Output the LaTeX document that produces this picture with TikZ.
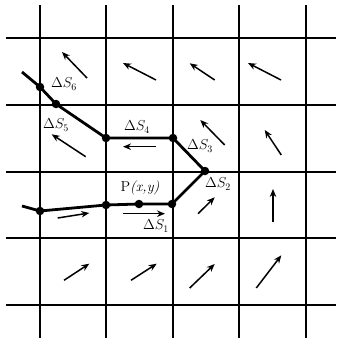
\documentclass[tikz,border=0pt]{standalone}
\usetikzlibrary{arrows.meta}

\begin{document}
\begin{tikzpicture}[
    x=1pt, y=-1pt,
    gridline/.style={line width=1.9pt},
    contour/.style={line width=2.8pt, line join=round},
    dot/.style={circle, fill, inner sep=0pt, minimum size=8.5pt},
    field/.style={-{Stealth[length=8pt, width=6.5pt]}, line width=1.5pt},
    lbl/.style={font=\Large, inner sep=0pt}
]
\useasboundingbox (0,0) rectangle (337,343);
% grid
\foreach \gx in {40,106,173,239,306}
    \draw[gridline] (\gx,5) -- (\gx,338);
\foreach \gy in {38,105,172,238,305}
    \draw[gridline] (6,\gy) -- (336,\gy);
% field vectors
\foreach \ax/\ay/\bx/\by in {
    87/78/62/52, 156/80/123/63, 214.7/80/189.7/63.3, 281/80/248/63,
    85.7/156.7/51.7/134.3, 156/146.7/123/146.7, 224.7/145/200.3/120, 281.3/155/264.7/130,
    57.7/218/89.3/213, 123.3/213.7/165/213.7, 198/213.7/214.7/197.3, 273/222/273/189,
    64/280.3/89.3/263.7, 131/280.3/156.7/263.7, 189.7/288/214.7/264, 256.3/288/281.3/255.3}
    \draw[field] (\ax,\ay) -- (\bx,\by);
% contour points
\coordinate (start) at (22,72);
\coordinate (finish) at (22,206);
\node[dot] (d6) at (40,87) {};
\node[dot] (d5) at (56,104) {};
\node[dot] (d4) at (106,138) {};
\node[dot] (d3) at (173,138) {};
\node[dot] (d2) at (205,171) {};
\node[dot] (d1) at (172,204) {};
\node[dot] (p) at (139,204) {};
\node[dot] (d0) at (106,205) {};
\node[dot] (e) at (40,211) {};
\draw[contour] (start) -- (d6.center) -- (d5.center) -- (d4.center) -- (d3.center)
    -- (d2.center) -- (d1.center) -- (p.center) -- (d0.center) -- (e.center) -- (finish);
% labels
\node[lbl] (l6) at (64,84) {$\Delta S_6$};
\node[lbl] (l5) at (56,125) {$\Delta S_5$};
\node[lbl] (l4) at (137,127) {$\Delta S_4$};
\node[lbl] (l3) at (200,146) {$\Delta S_3$};
\node[lbl] (l2) at (218,184) {$\Delta S_2$};
\node[lbl] (l1) at (156,226) {$\Delta S_1$};
\node[lbl] (pl) at (140,188) {P\textit{(x,y)}};
\end{tikzpicture}
\end{document}
